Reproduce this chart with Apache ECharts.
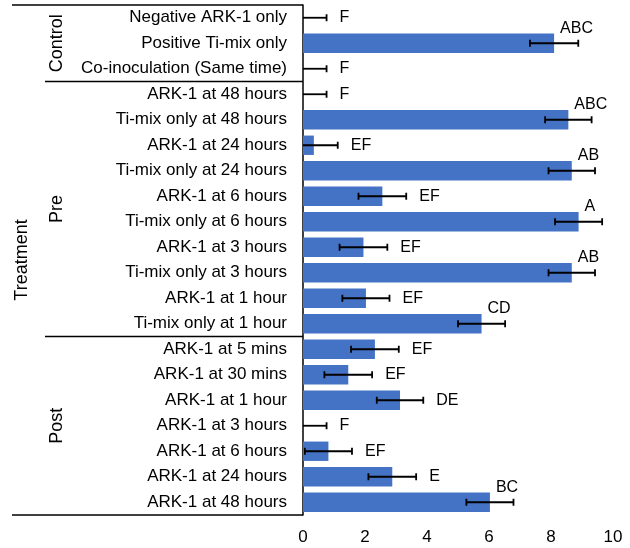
<!DOCTYPE html>
<html>
<head>
<meta charset="utf-8">
<script src="https://cdn.jsdelivr.net/npm/echarts@6/dist/echarts.min.js"></script>
<style>html,body{margin:0;padding:0;background:#fff}#c{width:630px;height:548px}</style>
</head>
<body>
<div id="c"></div>
<script>
var categories = [
  'Negative ARK-1 only','Positive Ti-mix only','Co-inoculation (Same time)',
  'ARK-1 at 48 hours','Ti-mix only at 48 hours','ARK-1 at 24 hours','Ti-mix only at 24 hours',
  'ARK-1 at 6 hours','Ti-mix only at 6 hours','ARK-1 at 3 hours','Ti-mix only at 3 hours',
  'ARK-1 at 1 hour','Ti-mix only at 1 hour',
  'ARK-1 at 5 mins','ARK-1 at 30 mins','ARK-1 at 1 hour ','ARK-1 at 3 hours ','ARK-1 at 6 hours ',
  'ARK-1 at 24 hours ','ARK-1 at 48 hours '
];
var values = [0, 8.10, 0, 0, 8.56, 0.35, 8.67, 2.56, 8.89, 1.95, 8.67, 2.03, 5.76, 2.32, 1.46, 3.13, 0, 0.82, 2.88, 6.03];
var errors = [0.76, 0.78, 0.76, 0.76, 0.75, 0.77, 0.75, 0.77, 0.76, 0.77, 0.75, 0.76, 0.76, 0.77, 0.77, 0.75, 0.76, 0.76, 0.77, 0.76];
var letters = ['F','ABC','F','F','ABC','EF','AB','EF','A','EF','AB','EF','CD','EF','EF','DE','F','EF','E','BC'];
var groupNames = ['Control','Pre','Post'];
var groupSizes = [3, 10, 7];
var outerName = 'Treatment';
var xTicks = [0, 2, 4, 6, 8, 10];

var chart = echarts.init(document.getElementById('c'));
var FONT = 'Liberation Sans, Arial, sans-serif';

var errData = values.map(function (v, i) { return [i, v, errors[i], letters[i]]; });

chart.setOption({
  animation: false,
  grid: { left: 303, right: 17, top: 5, bottom: 33, containLabel: false },
  xAxis: {
    type: 'value', min: xTicks[0], max: xTicks[xTicks.length - 1], interval: 2,
    axisLine: { show: false }, axisTick: { show: false }, splitLine: { show: false },
    axisLabel: { fontSize: 17, color: '#000', fontFamily: FONT, margin: 14 }
  },
  yAxis: {
    type: 'category', inverse: true, data: categories,
    axisLine: { show: true, lineStyle: { color: '#000', width: 1.5 } },
    axisTick: { show: false },
    axisLabel: { fontSize: 17, color: '#000', fontFamily: FONT, margin: 16,
      formatter: function (s) { return s.trim(); } }
  },
  series: [
    {
      type: 'bar', data: values, barCategoryGap: '24%',
      itemStyle: { color: '#4472C4' }, z: 2
    },
    {
      type: 'custom', data: errData, z: 5,
      renderItem: function (params, api) {
        var i = api.value(0), v = api.value(1), e = api.value(2);
        var letter = letters[i];
        var lo = Math.max(0, v - e), hi = v + e;
        var pLo = api.coord([lo, i]), pHi = api.coord([hi, i]), pV = api.coord([v, i]);
        var cy = pV[1];
        var capH = 3.5;
        var style = { stroke: '#000', lineWidth: 1.8 };
        var children = [
          { type: 'line', shape: { x1: pLo[0], y1: cy, x2: pHi[0], y2: cy }, style: style },
          { type: 'line', shape: { x1: pHi[0], y1: cy - capH, x2: pHi[0], y2: cy + capH }, style: style }
        ];
        if (v - e >= 0) {
          children.push({ type: 'line', shape: { x1: pLo[0], y1: cy - capH, x2: pLo[0], y2: cy + capH }, style: style });
        }
        var tx, ty;
        if (v > 4) { tx = pV[0] + 6; ty = cy - 15; }
        else { tx = pHi[0] + 13; ty = cy; }
        children.push({
          type: 'text',
          style: { x: tx, y: ty, text: letter, fill: '#000', font: '16px ' + FONT,
            textAlign: 'left', textVerticalAlign: 'middle' }
        });
        return { type: 'group', children: children };
      }
    }
  ]
});

// category-group frame and labels
function drawGroups() {
  var y0 = chart.convertToPixel({ yAxisIndex: 0 }, 0);
  var y1 = chart.convertToPixel({ yAxisIndex: 0 }, 1);
  var step = y1 - y0;
  var axisX = chart.convertToPixel({ xAxisIndex: 0 }, 0);
  var top = y0 - step / 2;
  var bottom = top + step * categories.length;
  var els = [];
  var lineStyle = { stroke: '#000', lineWidth: 1.5 };
  els.push({ type: 'line', shape: { x1: 12, y1: top, x2: axisX, y2: top }, style: lineStyle });
  els.push({ type: 'line', shape: { x1: 12, y1: bottom, x2: axisX, y2: bottom }, style: lineStyle });
  var start = 0;
  for (var g = 0; g < groupNames.length; g++) {
    var gTop = top + step * start;
    var gBot = gTop + step * groupSizes[g];
    if (g > 0) {
      els.push({ type: 'line', shape: { x1: 45, y1: gTop, x2: axisX, y2: gTop }, style: lineStyle });
    }
    els.push({
      type: 'text', x: 57, y: (gTop + gBot) / 2, rotation: Math.PI / 2,
      style: { text: groupNames[g], fill: '#000', font: '18px ' + FONT, textAlign: 'center', textVerticalAlign: 'middle' }
    });
    start += groupSizes[g];
  }
  els.push({
    type: 'text', x: 22, y: (top + bottom) / 2, rotation: Math.PI / 2,
    style: { text: outerName, fill: '#000', font: '18px ' + FONT, textAlign: 'center', textVerticalAlign: 'middle' }
  });
  chart.setOption({ graphic: els });
}
drawGroups();
</script>
</body>
</html>
